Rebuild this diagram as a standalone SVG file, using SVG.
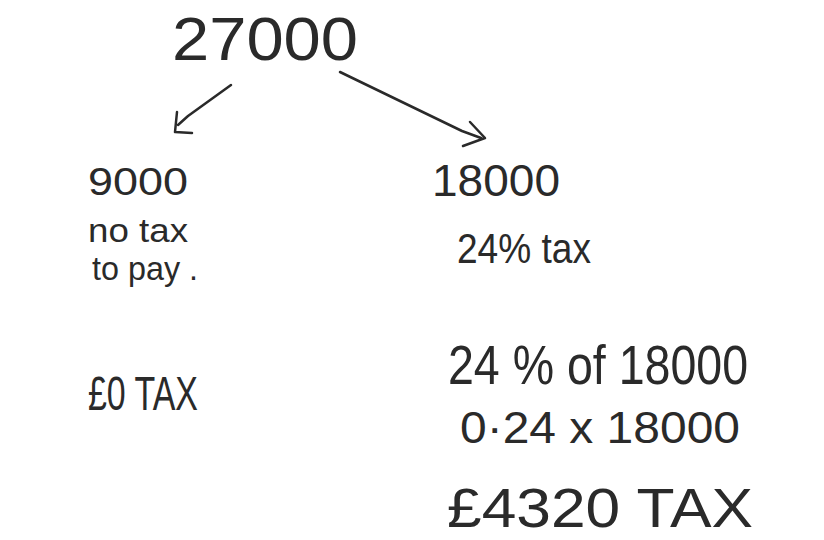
<svg xmlns="http://www.w3.org/2000/svg" width="824" height="540" viewBox="0 0 824 540">
<style>
.t{font-family:"Liberation Sans","DejaVu Sans",sans-serif;fill:#2a2a2a;font-weight:normal}
.c{fill:none;stroke:#2a2a2a;stroke-width:2.5;stroke-linecap:round;stroke-linejoin:round}
</style>
<rect width="824" height="540" fill="#ffffff"/>
<g id="n-total"><text class="t" x="172" y="60" font-size="62" textLength="186" lengthAdjust="spacingAndGlyphs">27000</text></g>
<g id="n-left">
<text class="t" x="88" y="195" font-size="38" textLength="100" lengthAdjust="spacingAndGlyphs">9000</text>
<text class="t" x="88" y="242" font-size="34" textLength="100" lengthAdjust="spacingAndGlyphs">no tax</text>
<text class="t" x="92" y="280" font-size="34" textLength="106" lengthAdjust="spacingAndGlyphs">to pay .</text>
<text class="t" x="88" y="410" font-size="48" textLength="110" lengthAdjust="spacingAndGlyphs">£0 TAX</text>
</g>
<g id="n-right">
<text class="t" x="432" y="196" font-size="44" textLength="128" lengthAdjust="spacingAndGlyphs">18000</text>
<text class="t" x="457" y="263" font-size="42" textLength="134" lengthAdjust="spacingAndGlyphs">24% tax</text>
<text class="t" x="448" y="384" font-size="56" textLength="300" lengthAdjust="spacingAndGlyphs">24 % of 18000</text>
<text class="t" x="460" y="443" font-size="44" textLength="280" lengthAdjust="spacingAndGlyphs">0·24 x 18000</text>
<text class="t" x="447" y="527" font-size="56" textLength="306" lengthAdjust="spacingAndGlyphs">£4320 TAX</text>
</g>
<g id="connectors">
<path class="c" d="M231 85 L188 116 L178 125"/>
<path class="c" d="M177 112 L175 132 L192 133"/>
<path class="c" d="M340 72 L462 131 L481 138"/>
<path class="c" d="M470 122 L485 138 L463 146"/>
</g>
</svg>
